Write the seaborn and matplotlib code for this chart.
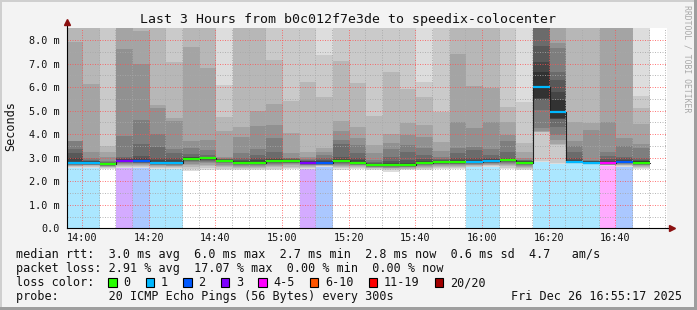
import numpy as np
import matplotlib
matplotlib.use("Agg")
import matplotlib.pyplot as plt
from matplotlib.patches import Rectangle
import seaborn as sns

# ---------------- data ----------------
title = "Last 3 Hours from b0c012f7e3de to speedix-colocenter"
x_tick_minutes = [0, 20, 40, 60, 80, 100, 120, 140, 160]          # minutes after 14:00
x_tick_labels = ["14:00", "14:20", "14:40", "15:00", "15:20", "15:40", "16:00", "16:20", "16:40"]
y_tick_values = [0, 1, 2, 3, 4, 5, 6, 7, 8]
y_tick_labels = ["0.0", "1.0 m", "2.0 m", "3.0 m", "4.0 m", "5.0 m", "6.0 m", "7.0 m", "8.0 m"]

slot_minutes = 5
first_slot_start = -4.75   # minutes after 14:00

# median rtt per 5-minute slot (ms)
median_ms = [2.79, 2.79, 2.72, 2.87, 2.86, 2.79, 2.79, 2.96, 2.99, 2.87,
             2.79, 2.79, 2.87, 2.87, 2.79, 2.77, 2.87, 2.79, 2.68, 2.69,
             2.69, 2.79, 2.82, 2.82, 2.82, 2.86, 2.89, 2.79, 5.99, 4.95,
             2.83, 2.79, 2.77, 2.82, 2.79]
# lost pings (of 20) per slot
loss_pings = [1, 1, 0, 3, 2, 1, 1, 0, 0, 0,
              0, 0, 0, 0, 3, 2, 0, 0, 0, 0,
              0, 0, 0, 0, 1, 1, 0, 0, 1, 1,
              1, 1, 4, 2, 0]
# sorted pings below the median (p1..p10), ms
smoke_low = [
    [2.57, 2.60, 2.63, 2.66, 2.69, 2.71, 2.73, 2.74, 2.75, 2.77],
    [2.57, 2.61, 2.64, 2.67, 2.69, 2.71, 2.72, 2.74, 2.76, 2.77],
    [2.51, 2.55, 2.59, 2.62, 2.64, 2.66, 2.67, 2.68, 2.69, 2.70],
    [2.55, 2.60, 2.66, 2.70, 2.74, 2.77, 2.80, 2.82, 2.84, 2.85],
    [2.57, 2.62, 2.66, 2.70, 2.74, 2.77, 2.79, 2.81, 2.83, 2.84],
    [2.52, 2.56, 2.60, 2.64, 2.67, 2.70, 2.72, 2.74, 2.76, 2.77],
    [2.52, 2.55, 2.59, 2.63, 2.66, 2.69, 2.72, 2.74, 2.76, 2.77],
    [2.45, 2.52, 2.60, 2.68, 2.75, 2.81, 2.86, 2.90, 2.92, 2.94],
    [2.48, 2.55, 2.63, 2.70, 2.77, 2.83, 2.88, 2.92, 2.95, 2.97],
    [2.48, 2.54, 2.60, 2.66, 2.71, 2.76, 2.80, 2.82, 2.84, 2.86],
    [2.48, 2.53, 2.58, 2.62, 2.66, 2.70, 2.73, 2.75, 2.76, 2.77],
    [2.48, 2.52, 2.57, 2.62, 2.66, 2.70, 2.72, 2.74, 2.76, 2.77],
    [2.48, 2.54, 2.60, 2.66, 2.71, 2.75, 2.79, 2.82, 2.84, 2.85],
    [2.50, 2.56, 2.62, 2.67, 2.72, 2.76, 2.79, 2.82, 2.84, 2.85],
    [2.52, 2.56, 2.60, 2.64, 2.67, 2.70, 2.72, 2.74, 2.76, 2.77],
    [2.60, 2.63, 2.66, 2.68, 2.70, 2.71, 2.72, 2.73, 2.74, 2.75],
    [2.48, 2.55, 2.61, 2.66, 2.71, 2.75, 2.79, 2.82, 2.84, 2.85],
    [2.51, 2.55, 2.59, 2.63, 2.67, 2.70, 2.72, 2.74, 2.76, 2.77],
    [2.48, 2.52, 2.55, 2.58, 2.60, 2.62, 2.63, 2.64, 2.65, 2.66],
    [2.41, 2.46, 2.51, 2.55, 2.58, 2.61, 2.63, 2.65, 2.66, 2.67],
    [2.46, 2.50, 2.54, 2.57, 2.60, 2.62, 2.64, 2.65, 2.66, 2.67],
    [2.48, 2.53, 2.58, 2.62, 2.66, 2.69, 2.72, 2.74, 2.76, 2.77],
    [2.50, 2.55, 2.60, 2.65, 2.69, 2.72, 2.75, 2.77, 2.79, 2.80],
    [2.50, 2.55, 2.60, 2.64, 2.68, 2.72, 2.75, 2.77, 2.79, 2.80],
    [2.59, 2.62, 2.65, 2.68, 2.71, 2.74, 2.76, 2.78, 2.79, 2.80],
    [2.59, 2.63, 2.67, 2.71, 2.74, 2.77, 2.79, 2.81, 2.83, 2.84],
    [2.51, 2.57, 2.63, 2.68, 2.73, 2.77, 2.81, 2.84, 2.86, 2.87],
    [2.48, 2.53, 2.58, 2.62, 2.66, 2.70, 2.72, 2.74, 2.76, 2.77],
    [2.83, 2.84, 4.08, 4.10, 4.13, 4.25, 5.01, 5.45, 5.50, 5.55],
    [2.74, 2.76, 3.55, 3.57, 3.75, 3.96, 4.32, 4.63, 4.65, 4.67],
    [2.76, 2.77, 2.78, 2.79, 2.79, 2.80, 2.80, 2.81, 2.81, 2.82],
    [2.76, 2.76, 2.77, 2.77, 2.77, 2.78, 2.78, 2.78, 2.78, 2.78],
    [2.65, 2.67, 2.69, 2.70, 2.71, 2.72, 2.73, 2.74, 2.75, 2.76],
    [2.60, 2.64, 2.68, 2.71, 2.74, 2.76, 2.77, 2.78, 2.79, 2.80],
    [2.51, 2.55, 2.59, 2.63, 2.67, 2.70, 2.72, 2.74, 2.76, 2.77],
]
# sorted pings above the median (p11..p20), ms (9.0 = beyond the top of the graph)
smoke_high = [
    [2.83, 3.00, 3.19, 3.37, 3.71, 3.71, 7.93, 9.0, 9.0, 9.0],
    [2.82, 2.85, 2.88, 2.92, 3.00, 3.26, 6.12, 9.0, 9.0, 9.0],
    [2.75, 2.77, 2.79, 2.82, 2.86, 3.05, 3.26, 3.51, 9.0, 9.0],
    [2.90, 2.94, 2.98, 3.04, 3.93, 7.62, 9.0, 9.0, 9.0, 9.0],
    [2.90, 2.98, 3.09, 3.58, 4.60, 6.97, 8.38, 9.0, 9.0, 9.0],
    [2.83, 2.90, 3.00, 3.47, 3.99, 5.10, 5.24, 9.0, 9.0, 9.0],
    [2.83, 2.90, 3.00, 3.19, 3.37, 4.56, 4.70, 7.05, 9.0, 9.0],
    [2.99, 3.02, 3.05, 3.14, 3.40, 3.71, 7.72, 9.0, 9.0, 9.0],
    [3.01, 3.03, 3.05, 3.12, 3.33, 3.75, 6.82, 9.0, 9.0, 9.0],
    [2.90, 2.92, 2.94, 2.96, 2.99, 3.04, 4.13, 4.74, 6.09, 9.0],
    [2.83, 2.87, 2.92, 3.00, 3.19, 3.89, 4.32, 9.0, 9.0, 9.0],
    [2.83, 2.90, 2.98, 3.11, 3.37, 4.36, 4.98, 9.0, 9.0, 9.0],
    [2.90, 2.94, 3.00, 3.26, 3.82, 4.39, 5.28, 7.15, 9.0, 9.0],
    [2.90, 2.92, 2.94, 2.97, 3.00, 3.19, 4.03, 5.41, 9.0, 9.0],
    [2.83, 2.85, 2.87, 2.90, 2.96, 3.04, 3.26, 6.23, 9.0, 9.0],
    [2.82, 2.86, 2.92, 3.00, 3.10, 3.26, 3.43, 5.59, 7.36, 9.0],
    [2.90, 2.95, 3.04, 3.57, 3.75, 4.13, 4.56, 7.11, 9.0, 9.0],
    [2.83, 2.90, 3.00, 3.19, 3.54, 3.82, 4.32, 6.16, 9.0, 9.0],
    [2.72, 2.75, 2.78, 2.82, 2.90, 3.19, 3.54, 4.79, 9.0, 9.0],
    [2.72, 2.77, 2.85, 3.04, 3.37, 3.61, 3.99, 6.65, 9.0, 9.0],
    [2.72, 2.78, 2.90, 3.26, 3.54, 3.96, 4.46, 5.92, 9.0, 9.0],
    [2.83, 2.87, 2.95, 3.11, 3.43, 3.89, 4.39, 5.59, 6.20, 9.0],
    [2.85, 2.88, 2.91, 2.96, 3.04, 3.28, 3.68, 4.93, 9.0, 9.0],
    [2.85, 2.90, 3.00, 3.19, 3.40, 4.53, 7.39, 9.0, 9.0, 9.0],
    [2.86, 2.92, 3.00, 3.33, 3.47, 4.25, 6.06, 9.0, 9.0, 9.0],
    [2.90, 2.94, 2.98, 3.10, 3.37, 4.53, 5.95, 9.0, 9.0, 9.0],
    [2.92, 2.95, 3.00, 3.26, 3.71, 3.96, 4.53, 5.17, 9.0, 9.0],
    [2.83, 2.85, 2.87, 2.90, 2.92, 3.00, 3.23, 3.61, 5.38, 9.0],
    [6.65, 7.05, 7.76, 9.0, 9.0, 9.0, 9.0, 9.0, 9.0, 9.0],
    [5.45, 5.80, 6.30, 6.65, 7.65, 7.86, 9.0, 9.0, 9.0, 9.0],
    [2.86, 2.92, 3.00, 3.23, 3.51, 3.71, 4.50, 9.0, 9.0, 9.0],
    [2.82, 2.84, 2.86, 2.88, 2.90, 4.18, 4.46, 9.0, 9.0, 9.0],
    [2.82, 2.88, 2.95, 3.09, 3.23, 4.53, 9.0, 9.0, 9.0, 9.0],
    [2.88, 2.92, 2.97, 3.04, 3.51, 3.82, 9.0, 9.0, 9.0, 9.0],
    [2.84, 2.88, 2.92, 3.00, 3.40, 3.57, 4.42, 5.10, 5.64, 9.0],
]

loss_levels = ["0", "1", "2", "3", "4-5", "6-10", "11-19", "20/20"]
loss_level_max = [0, 1, 2, 3, 5, 10, 19, 20]
loss_colors = ["#26ff00", "#00b8ff", "#0059ff", "#7e00ff", "#ff00ff", "#ff5500", "#ff0000", "#a10000"]

stat_lines = [
    "median rtt:  3.0 ms avg  6.0 ms max  2.7 ms min  2.8 ms now  0.6 ms sd  4.7   am/s",
    "packet loss: 2.91 % avg  17.07 % max  0.00 % min  0.00 % now",
]
loss_label = "loss color:"
probe_line = "probe:       20 ICMP Echo Pings (56 Bytes) every 300s"
date_text = "Fri Dec 26 16:55:17 2025"
watermark = "RRDTOOL / TOBI OETIKER"
y_label = "Seconds"

# ---------------- drawing ----------------
sns.set_theme(style="white")
plt.rcParams["font.family"] = ["DejaVu Sans Mono", "DejaVu Sans"]

W, H = 697, 310
fig = plt.figure(figsize=(W / 100, H / 100), dpi=100, facecolor="#f3f3f3")


def fx(x):
    return x / W


def fy(y):
    return 1 - y / H


ax = fig.add_axes([fx(67), fy(228.3), 600 / W, 200 / H])
ax.set_facecolor("white")
y_top = 8.5
ax.set_xlim(-4.5, 175.5)
ax.set_ylim(0, y_top)

n = len(median_ms)
edges = first_slot_start + slot_minutes * np.arange(n + 1)
levels = [next(k for k, m in enumerate(loss_level_max) if lp <= m) for lp in loss_pings]

# loss background
for i in range(n):
    if levels[i] > 0:
        ax.bar(edges[i], y_top, width=slot_minutes, align="edge",
               color=loss_colors[levels[i]], alpha=0.33, linewidth=0,
               antialiased=False, zorder=1)

# smoke
low = np.array(smoke_low)
high = np.array(smoke_high)
half = low.shape[1]
for i in range(1, half + 1):
    g = (int(190 / half * (half - i)) + 50) / 255
    ax.stairs(high[:, half - i], edges, baseline=low[:, i - 1], fill=True,
              color=(g, g, g), linewidth=0, zorder=1.2)

# median: thin dark step + loss-coloured segments
med_ext = list(median_ms) + [median_ms[-1]]
sns.lineplot(x=edges, y=med_ext, drawstyle="steps-post", color="#202020",
             linewidth=0.8, ax=ax, zorder=3, legend=False, estimator=None, sort=False)
ax.hlines(median_ms, edges[:-1], edges[1:], colors=[loss_colors[l] for l in levels],
          linewidth=1.6, zorder=4, capstyle="butt")

# ticks and grid
ax.set_xticks(x_tick_minutes)
ax.set_xticklabels(x_tick_labels)
ax.set_xticks(np.arange(0, 176, 5), minor=True)
ax.set_yticks(y_tick_values)
ax.set_yticklabels(y_tick_labels)
ax.set_yticks(np.arange(0.5, 8.5, 0.5), minor=True)
ax.set_axisbelow(False)
ax.grid(which="minor", color="#a8a8a8", linewidth=0.72, linestyle=(0, (1, 1.5)), alpha=0.8)
ax.grid(which="major", color="#ff5050", linewidth=0.72, linestyle=(0, (1, 1.5)), alpha=0.75)
ax.tick_params(which="major", direction="inout", length=3, width=0.7, color="black",
               labelsize=7.3, labelcolor="#111111")
ax.tick_params(which="minor", direction="inout", length=2, width=0.6, color="black")
ax.tick_params(axis="y", pad=4)
ax.tick_params(axis="x", pad=2)

for s in ["top", "right"]:
    ax.spines[s].set_visible(False)
for s in ["left", "bottom"]:
    ax.spines[s].set_color("black")
    ax.spines[s].set_linewidth(0.8)
    ax.spines[s].set_zorder(5)

# axis arrows
ax.plot([0, 0], [1.0, 1.025], transform=ax.transAxes, color="black", lw=0.8, clip_on=False)
ax.plot([0], [1.03], transform=ax.transAxes, marker="^", ms=4.5, color="#8b1010",
        clip_on=False, mec="#8b1010")
ax.plot([1.0, 1.004], [0, 0], transform=ax.transAxes, color="black", lw=0.8, clip_on=False)
ax.plot([1.008], [0], transform=ax.transAxes, marker=">", ms=4.5, color="#8b1010",
        clip_on=False, mec="#8b1010")

# title, axis label, watermark
fig.text(0.5, fy(19), title, ha="center", va="center", fontsize=9.5, color="#111111")
fig.text(fx(10.5), fy(126), y_label, rotation=90, ha="center", va="center",
         fontsize=8.6, color="#111111")
fig.text(fx(686.5), fy(5), watermark, rotation=270, ha="center", va="top",
         fontsize=5.9, color="#a8a8a8")

# legend / stats
fs = 8.5
cw = 7.1
fig.text(fx(16), fy(258), stat_lines[0], fontsize=fs, va="baseline", color="#111111")
fig.text(fx(16), fy(272), stat_lines[1], fontsize=fs, va="baseline", color="#111111")
fig.text(fx(16), fy(286), loss_label, fontsize=fs, va="baseline", color="#111111")
bx = 108.3
for lab, col in zip(loss_levels, loss_colors):
    fig.add_artist(Rectangle((fx(bx), fy(286.7)), 8.3 / W, 9 / H, transform=fig.transFigure,
                             facecolor=col, edgecolor="black", linewidth=0.8))
    fig.text(fx(bx + 15), fy(286), lab, fontsize=fs, va="baseline", color="#111111")
    bx = bx + 15 + len(lab) * cw + 15.4
fig.text(fx(16), fy(300.3), probe_line, fontsize=fs, va="baseline", color="#111111")
fig.text(fx(682), fy(300.3), date_text, fontsize=fs, va="baseline", ha="right", color="#111111")

# outer frame (light top/left, dark bottom/right)
fig.add_artist(Rectangle((0, fy(2)), 1, 2 / H, transform=fig.transFigure, color="#cfcfcf", lw=0))
fig.add_artist(Rectangle((0, 0), 2 / W, 1, transform=fig.transFigure, color="#cfcfcf", lw=0))
fig.add_artist(Rectangle((0, 0), 1, 3 / H, transform=fig.transFigure, color="#9e9e9e", lw=0))
fig.add_artist(Rectangle((fx(W - 3), 0), 3 / W, 1, transform=fig.transFigure, color="#9e9e9e", lw=0))

fig.savefig("out.png", dpi=100, facecolor=fig.get_facecolor())
